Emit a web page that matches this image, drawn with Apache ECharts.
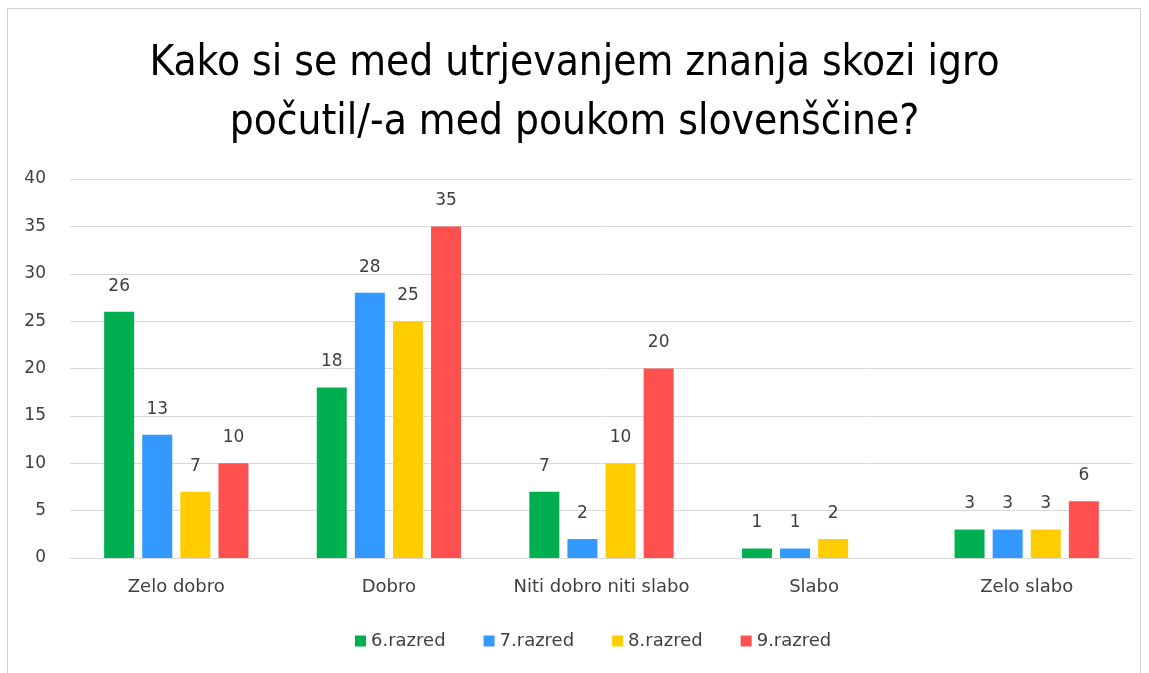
<!DOCTYPE html>
<html>
<head>
<meta charset="utf-8">
<script src="https://cdn.jsdelivr.net/npm/echarts@6/dist/echarts.min.js"></script>
<style>
  html, body { margin: 0; padding: 0; background: #fff; }
  #chart { width: 1149px; height: 673px; }
</style>
</head>
<body>
<div id="chart"></div>
<script>
// kategorije in podatki
var categories = ['Zelo dobro', 'Dobro', 'Niti dobro niti slabo', 'Slabo', 'Zelo slabo'];
var razred6 = [26, 18, 7, 1, 3];
var razred7 = [13, 28, 2, 1, 3];
var razred8 = [7, 25, 10, 2, 3];
var razred9 = [10, 35, 20, '-', 6];
var seriesNames = ['6.razred', '7.razred', '8.razred', '9.razred'];
var colors = ['#00B050', '#3399FF', '#FFCC00', '#FF5050'];

var font = "'Liberation Sans Narrow', 'DejaVu Sans Condensed', sans-serif";
var bodyFont = "'DejaVu Sans', sans-serif";

var myChart = echarts.init(document.getElementById('chart'));

function makeSeries(name, data, color) {
    return {
        name: name,
        type: 'bar',
        data: data,
        barWidth: 30,
        barGap: '27%',
        itemStyle: { color: color },
        label: {
            show: true,
            position: 'top',
            distance: 17,
            color: '#404040',
            fontSize: 17,
            fontFamily: bodyFont
        }
    };
}

var option = {
    animation: false,
    color: colors,
    title: {
        text: 'Kako si se med utrjevanjem znanja skozi igro\npočutil/-a med poukom slovenščine?',
        left: 'center',
        top: 30,
        textStyle: {
            fontSize: 42,
            fontWeight: 'normal',
            color: '#000',
            fontFamily: font,
            lineHeight: 59
        }
    },
    legend: {
        bottom: 18,
        left: 350,
        itemWidth: 11,
        itemHeight: 11,
        itemGap: 38,
        icon: 'rect',
        textStyle: { fontSize: 18, color: '#404040', fontFamily: bodyFont },
        data: seriesNames
    },
    grid: { left: 70, right: 16, top: 179, bottom: 115 },
    xAxis: {
        type: 'category',
        data: categories,
        axisLine: { show: true, lineStyle: { color: '#d9d9d9' } },
        axisTick: { show: false },
        axisLabel: { fontSize: 18, color: '#404040', fontFamily: bodyFont, margin: 20, interval: 0 }
    },
    yAxis: {
        type: 'value',
        min: 0,
        max: 40,
        interval: 5,
        axisLine: { show: false },
        axisTick: { show: false },
        axisLabel: { fontSize: 17, color: '#404040', fontFamily: bodyFont, margin: 24 },
        splitLine: { lineStyle: { color: '#d9d9d9', width: 1 } }
    },
    graphic: [{
        type: 'rect',
        shape: { x: 7.5, y: 8.5, width: 1133, height: 700 },
        style: { fill: 'none', stroke: '#d0d0d0', lineWidth: 1 },
        silent: true
    }],
    series: [
        makeSeries(seriesNames[0], razred6, colors[0]),
        makeSeries(seriesNames[1], razred7, colors[1]),
        makeSeries(seriesNames[2], razred8, colors[2]),
        makeSeries(seriesNames[3], razred9, colors[3])
    ]
};

if (option && typeof option === 'object') {
    myChart.setOption(option, true);
}
</script>
</body>
</html>
